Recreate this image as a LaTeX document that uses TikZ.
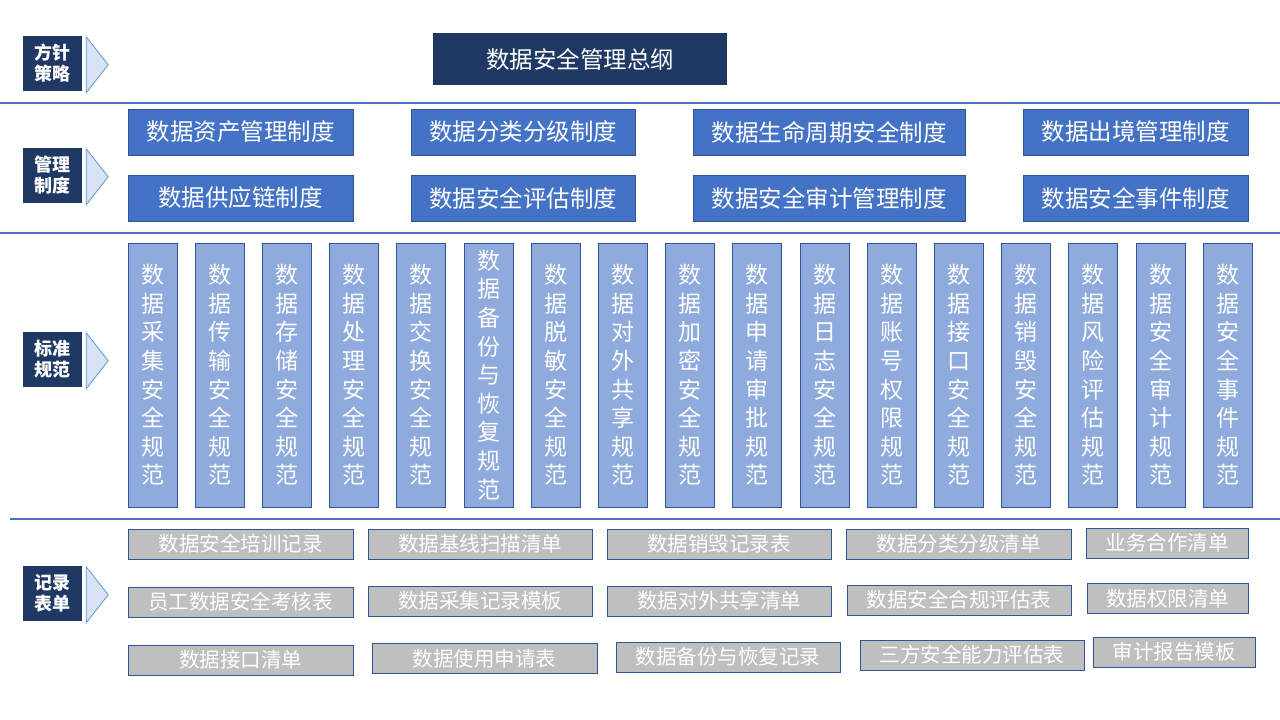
\documentclass[tikz,border=0pt]{standalone}
\usepackage{fontspec}
\setmainfont{Noto Sans CJK SC}
\usetikzlibrary{positioning}

\definecolor{navy}{HTML}{1F3864}
\definecolor{midblue}{HTML}{4472C4}
\definecolor{edgeblue}{HTML}{2F5597}
\definecolor{paleblue}{HTML}{8FAADC}
\definecolor{recgray}{HTML}{BFBFBF}
\definecolor{chevfill}{HTML}{DAE3F3}
\definecolor{chevline}{HTML}{5B9BD5}

\tikzset{
  tag/.style={fill=navy, text=white, inner sep=0pt, align=center,
    minimum width=59pt, minimum height=55pt,
    font=\fontsize{18}{21}\selectfont\bfseries},
  chev/.style={fill=chevfill, draw=chevline, line width=0.8pt},
  sep/.style={draw=midblue, line width=2pt},
  head/.style={fill=navy, text=white, inner sep=0pt,
    minimum width=294pt, minimum height=52pt,
    font=\fontsize{23.5}{28}\selectfont},
  rule/.style={fill=midblue, draw=edgeblue, line width=1pt, text=white,
    inner sep=0pt, minimum height=46pt,
    font=\fontsize{23.5}{28}\selectfont},
  norm/.style={fill=paleblue, draw=edgeblue, line width=1pt, text=white,
    inner sep=0pt, align=center, minimum width=49pt, minimum height=264pt,
    font=\fontsize{23}{28.6}\selectfont},
  rec/.style={fill=recgray, draw=edgeblue, line width=1pt, text=white,
    inner sep=0pt, minimum height=30pt,
    font=\fontsize{20.5}{24}\selectfont},
}

\begin{document}
\begin{tikzpicture}[x=1pt, y=-1pt]
  \useasboundingbox (0,0) rectangle (1280,720);

  % layer separators
  \draw[sep] (0,103) -- (1280,103);
  \draw[sep] (0,233) -- (1280,233);
  \draw[sep] (10,519) -- (1280,519);

  % layer tags
  \node[tag] (policy) at (52.5,63.5) {方针\\策略};
  \node[tag] (system) at (52.5,175.5) {管理\\制度};
  \node[tag] (standard) at (52.5,359.5) {标准\\规范};
  \node[tag] (record) at (52.5,593.5) {记录\\表单};
  \foreach \t in {policy,system,standard,record}
    \draw[chev] ([shift={(4,1)}]\t.north east) -- ++(22,28) -- ++(-22,28) -- cycle;

  % policy
  \node[head] (outline) at (580,59) {数据安全管理总纲};

  % management systems
  \node[rule, minimum width=225pt] (asset) at (240.5,132) {数据资产管理制度};
  \node[rule, minimum width=224pt] (grade) at (523,132) {数据分类分级制度};
  \node[rule, minimum width=272pt] (life) at (829,132) {数据生命周期安全制度};
  \node[rule, minimum width=225pt] (exit) at (1135.5,132) {数据出境管理制度};
  \node[rule, minimum width=225pt] (supply) at (240.5,198) {数据供应链制度};
  \node[rule, minimum width=224pt] (assess) at (523,198) {数据安全评估制度};
  \node[rule, minimum width=272pt] (audit) at (829,198) {数据安全审计管理制度};
  \node[rule, minimum width=225pt] (event) at (1135.5,198) {数据安全事件制度};

  % standards
  \foreach \t [count=\i from 0] in {
      数\\据\\采\\集\\安\\全\\规\\范,
      数\\据\\传\\输\\安\\全\\规\\范,
      数\\据\\存\\储\\安\\全\\规\\范,
      数\\据\\处\\理\\安\\全\\规\\范,
      数\\据\\交\\换\\安\\全\\规\\范,
      数\\据\\备\\份\\与\\恢\\复\\规\\范,
      数\\据\\脱\\敏\\安\\全\\规\\范,
      数\\据\\对\\外\\共\\享\\规\\范,
      数\\据\\加\\密\\安\\全\\规\\范,
      数\\据\\申\\请\\审\\批\\规\\范,
      数\\据\\日\\志\\安\\全\\规\\范,
      数\\据\\账\\号\\权\\限\\规\\范,
      数\\据\\接\\口\\安\\全\\规\\范,
      数\\据\\销\\毁\\安\\全\\规\\范,
      数\\据\\风\\险\\评\\估\\规\\范,
      数\\据\\安\\全\\审\\计\\规\\范,
      数\\据\\安\\全\\事\\件\\规\\范}
    \node[norm] (std\i) at (152.5+\i*67.2,375) {\t};

  % records and forms
  \node[rec, minimum width=225pt] (train) at (240.5,544) {数据安全培训记录};
  \node[rec, minimum width=224pt] (scan) at (480,544) {数据基线扫描清单};
  \node[rec, minimum width=224pt] (wipe) at (719,544) {数据销毁记录表};
  \node[rec, minimum width=225pt] (gradelist) at (958.5,544) {数据分类分级清单};
  \node[rec, minimum width=162pt] (partner) at (1167,543) {业务合作清单};

  \node[rec, minimum width=225pt] (exam) at (240.5,602) {员工数据安全考核表};
  \node[rec, minimum width=224pt] (collect) at (480,601) {数据采集记录模板};
  \node[rec, minimum width=224pt] (share) at (719,601) {数据对外共享清单};
  \node[rec, minimum width=224pt] (comply) at (959,600) {数据安全合规评估表};
  \node[rec, minimum width=161pt] (perm) at (1167.5,598.5) {数据权限清单};

  \node[rec, minimum width=225pt] (iface) at (240.5,660) {数据接口清单};
  \node[rec, minimum width=225pt] (apply) at (484.5,658.5) {数据使用申请表};
  \node[rec, minimum width=224pt] (backup) at (728,657) {数据备份与恢复记录};
  \node[rec, minimum width=224pt] (third) at (972,655) {三方安全能力评估表};
  \node[rec, minimum width=162pt] (report) at (1174,652) {审计报告模板};
\end{tikzpicture}
\end{document}
